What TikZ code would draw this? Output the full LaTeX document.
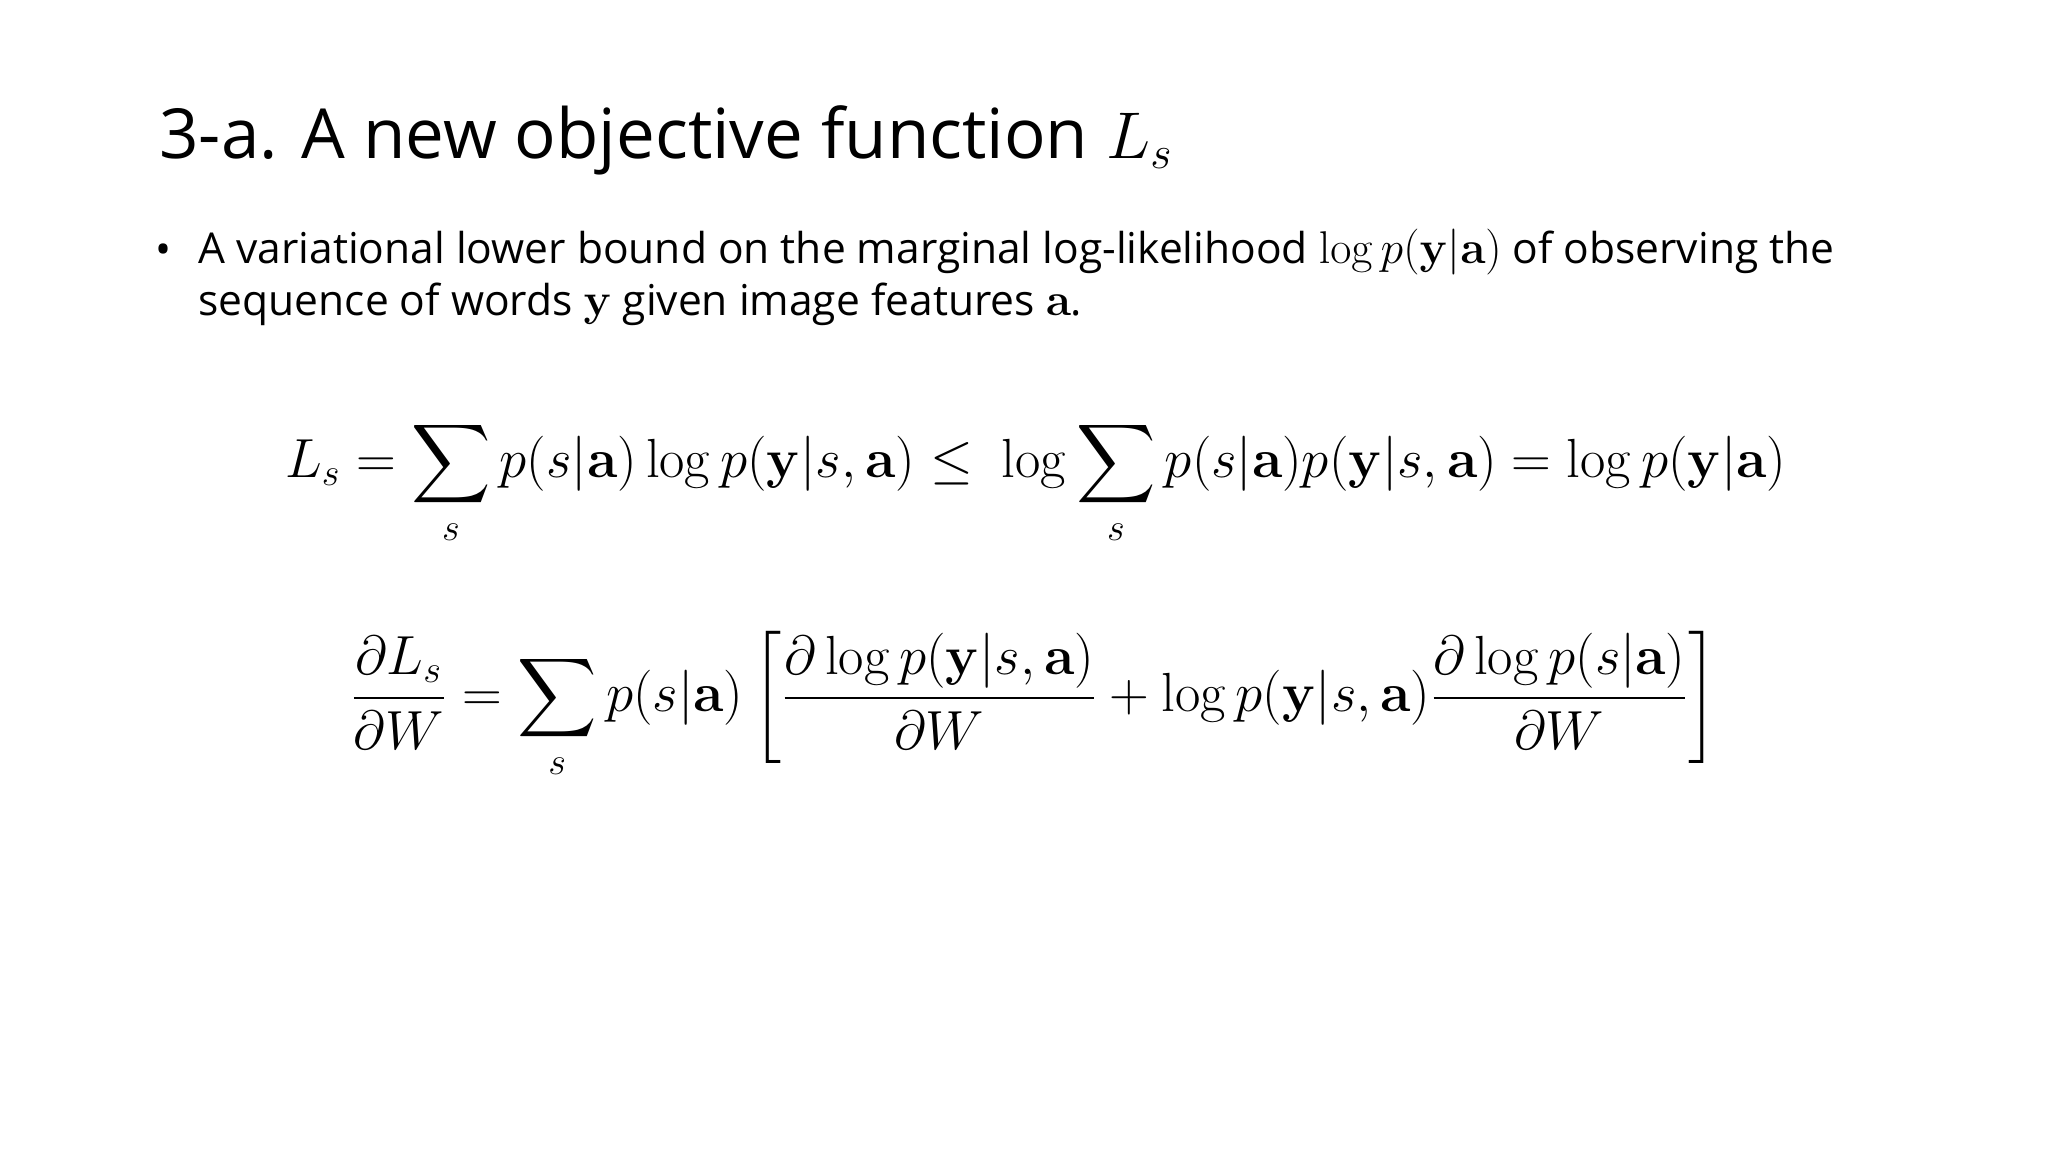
\documentclass[tikz,border=0pt]{standalone}
\usepackage{amsmath}
\usepackage[no-math]{fontspec}
\setmainfont{Open Sans}
\begin{document}
\begin{tikzpicture}
\useasboundingbox (0,0) rectangle (27.09,15.24);
\tikzset{txt/.style={anchor=base west,inner sep=0pt}}
\node[txt,font=\fontsize{26}{31}\selectfont] (title) at (2.10,13.14) {3-a. A new objective function $L_s$};
\node[txt,font=\fontsize{16}{19}\selectfont] (bul) at (2.05,11.74) {•};
\node[txt,font=\fontsize{16}{19.5}\selectfont,align=left,anchor=north west] (b1) at (2.62,12.22) {A variational lower bound on the marginal log-likelihood $\log p(\mathbf{y}|\mathbf{a})$ of observing the\\sequence of words $\mathbf{y}$ given image features $\mathbf{a}$.};
\node[inner sep=0pt,font=\fontsize{19.6}{24}\selectfont] (eq1) at (13.7,8.85) {$\displaystyle L_s=\sum_s p(s|\mathbf{a})\log p(\mathbf{y}|s,\mathbf{a})\le\ \log\sum_s p(s|\mathbf{a})p(\mathbf{y}|s,\mathbf{a})=\log p(\mathbf{y}|\mathbf{a})$};
\node[inner sep=0pt,font=\fontsize{19.6}{24}\selectfont] (eq2) at (13.68,5.9) {$\displaystyle \frac{\partial L_s}{\partial W}=\sum_s p(s|\mathbf{a})\left[\frac{\partial\log p(\mathbf{y}|s,\mathbf{a})}{\partial W}+\log p(\mathbf{y}|s,\mathbf{a})\frac{\partial\log p(s|\mathbf{a})}{\partial W}\right]$};
\end{tikzpicture}
\end{document}
